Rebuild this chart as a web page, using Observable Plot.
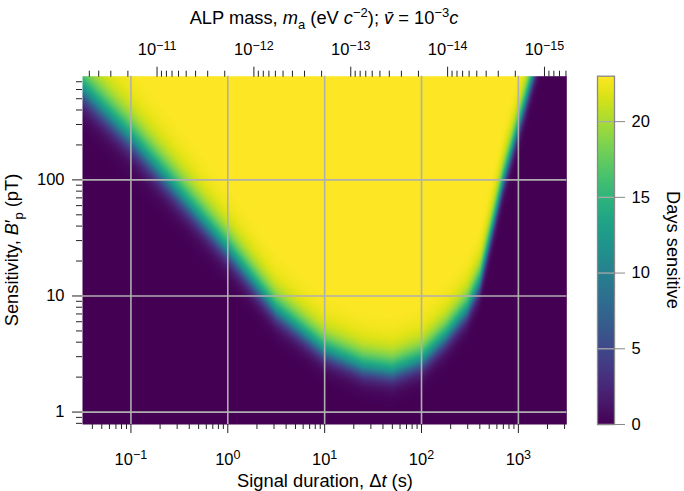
<!DOCTYPE html>
<html><head><meta charset="utf-8">
<script src="https://cdn.jsdelivr.net/npm/d3@7"></script>
<script src="https://cdn.jsdelivr.net/npm/@observablehq/plot@0.6"></script>
<style>
body{margin:0;background:#fff;font-family:"Liberation Sans",Arial,sans-serif;}
#wrap{position:relative;width:684px;height:491px;overflow:hidden;background:#fff;}
#wrap svg{position:absolute;top:0;}
.lbl{position:absolute;font-size:18.3px;white-space:nowrap;color:#000;line-height:1;}
.lbl i{font-style:italic;}
.lbl sub,.lbl sup{font-size:13px;line-height:0;}
</style></head><body>
<div id="wrap"></div>
<script>
// ---- data ----
// signal duration (s) and the sensitivity (pT) where "days sensitive" crosses its mid value
const durations   = [0.0316, 0.1, 0.316, 1, 3.16, 10, 25, 50, 100, 178, 295, 400, 700, 1400];
const thresholdB  = [610, 228, 76, 25, 7.5, 3.4, 2.45, 2.25, 2.8, 4.5, 7.6, 13.2, 100, 780];
const spreadScale = [1.35, 1.3, 1.25, 1.15, 1.05, 1, 1, 1, 1, 1, 1, 1, 1, 1];
const spreadUp = 0.092;      // decades of B: spread of days toward better sensitivity
const spreadDown = 0.056;    // decades of B: spread toward worse sensitivity
const maxDays = 23;
// ticks
const xTicks = [0.1, 1, 10, 100, 1000];
const yTicks = [1, 10, 100];
const massTicks = [1e-11, 1e-12, 1e-13, 1e-14, 1e-15];
const colorTicks = [0, 5, 10, 15, 20];
const massPerDuration = 1.86e-12; // eV s : m_a = K / Δt (top axis)

const X0 = Math.pow(10, -1.5), X1 = Math.pow(10, 3.5);
const Y0 = Math.pow(10, -0.107), Y1 = Math.pow(10, 2.893);

function minorTicks(lo, hi) {
  const out = [];
  for (let e = Math.floor(Math.log10(lo)) - 1; e <= Math.ceil(Math.log10(hi)); e++)
    for (let k = 2; k <= 9; k++) { const v = k * Math.pow(10, e); if (v >= lo && v <= hi) out.push(v); }
  return out;
}
const xMinor = minorTicks(X0, X1);
const yMinor = minorTicks(Y0, Y1);
const mLo = massPerDuration / X1, mHi = massPerDuration / X0;
const massMinor = minorTicks(mLo, mHi).map(m => massPerDuration / m);
const massMajor = massTicks.map(m => massPerDuration / m);

const ld = durations.map(Math.log10);
const thr = d3.scaleLinear().domain(ld).range(thresholdB.map(Math.log10));
const sc = d3.scaleLinear().domain(ld).range(spreadScale).clamp(true);
function days(t, b) {
  const lt = Math.log10(t);
  const v = Math.log10(b) - thr(lt);
  const s = (v > 0 ? spreadUp : spreadDown) * sc(lt);
  return maxDays / (1 + Math.exp(-v / s));
}
const font = {fontFamily: "Liberation Sans, Arial, sans-serif", fontSize: "16.5px", color: "#000", background: "none"};
const color = {type: "linear", scheme: "viridis", domain: [0, maxDays]};

const main = Plot.plot({
  width: 684, height: 491,
  marginLeft: 82, marginRight: 117.7, marginTop: 75.7, marginBottom: 67,
  x: {type: "log", domain: [X0, X1], axis: null},
  y: {type: "log", domain: [Y0, Y1], axis: null},
  color,
  style: font,
  marks: [
    Plot.raster({fill: (x, y) => days(x, y), x1: X0, x2: X1, y1: Y0, y2: Y1}),
    Plot.ruleX(xTicks, {stroke: "#afafaf", strokeWidth: 1.6}),
    Plot.ruleY(yTicks, {stroke: "#afafaf", strokeWidth: 1.6}),
    Plot.axisX({anchor: "bottom", ticks: xTicks, tickSize: 9, tickPadding: 19.5, stroke: "#222",
      tickFormat: d => "10^" + Math.round(Math.log10(d)), label: null}),
    Plot.axisX({anchor: "bottom", ticks: xMinor, tickSize: 5, stroke: "#222", tickFormat: () => "", label: null}),
    Plot.axisX({anchor: "top", ticks: massMajor, tickSize: 10, tickPadding: 10.7, stroke: "#222",
      tickFormat: d => "10^" + Math.round(Math.log10(massPerDuration / d)), label: null}),
    Plot.axisX({anchor: "top", ticks: massMinor, tickSize: 6, stroke: "#222", tickFormat: () => "", label: null}),
    Plot.axisY({anchor: "left", ticks: yTicks, tickSize: 10, tickPadding: 8, stroke: "#222",
      tickFormat: d => String(d), label: null}),
    Plot.axisY({anchor: "left", ticks: yMinor, tickSize: 6, stroke: "#222", tickFormat: () => "", label: null})
  ]
});

const bar = Plot.plot({
  width: 104, height: 491,
  marginLeft: 17, marginRight: 70, marginTop: 75.7, marginBottom: 67,
  x: {domain: [0, 1], axis: null},
  y: {domain: [0, maxDays], axis: null},
  color,
  style: font,
  marks: [
    Plot.raster({fill: (x, y) => y, x1: 0, x2: 1, y1: 0, y2: maxDays}),
    Plot.ruleY(colorTicks, {stroke: "#aaa", strokeWidth: 1.3}),
    Plot.frame({stroke: "#888", strokeWidth: 1.3}),
    Plot.axisY({anchor: "right", ticks: colorTicks, tickSize: 10, tickPadding: 7, stroke: "#888",
      tickFormat: d => String(d), label: null})
  ]
});

const ns = "http://www.w3.org/2000/svg";
function supify(svg) {
  svg.querySelectorAll("text").forEach(t => {
    const m = /^10\^(.+)$/.exec(t.textContent);
    if (!m) return;
    t.textContent = "";
    const a = document.createElementNS(ns, "tspan"); a.textContent = "10"; t.appendChild(a);
    const b = document.createElementNS(ns, "tspan"); b.textContent = m[1].replace("-", "\u2212");
    b.setAttribute("dy", "-0.42em"); b.setAttribute("font-size", "12.5"); t.appendChild(b);
  });
}
supify(main);

const wrap = document.getElementById("wrap");
main.style.left = "0px";
bar.style.left = "580px";
wrap.appendChild(main);
wrap.appendChild(bar);

function addLabel(html, x, y, rot) {
  const d = document.createElement("div");
  d.className = "lbl";
  d.innerHTML = html;
  d.style.left = x + "px";
  d.style.top = y + "px";
  d.style.transform = "translate(-50%,-50%)" + (rot ? ` rotate(${rot}deg)` : "");
  wrap.appendChild(d);
}
addLabel('ALP mass, <i>m</i><sub>a</sub> (eV <i>c</i><sup>\u22122</sup>); <i>v\u0304</i> = 10<sup>\u22123</sup><i>c</i>', 324, 18);
addLabel('Signal duration, \u0394<i>t</i> (s)', 325, 481);
addLabel('Sensitivity, <i>B</i>\u2032<sub>p</sub> (pT)', 12, 250, -90);
addLabel('Days sensitive', 673, 250, 90);
</script>
</body></html>
